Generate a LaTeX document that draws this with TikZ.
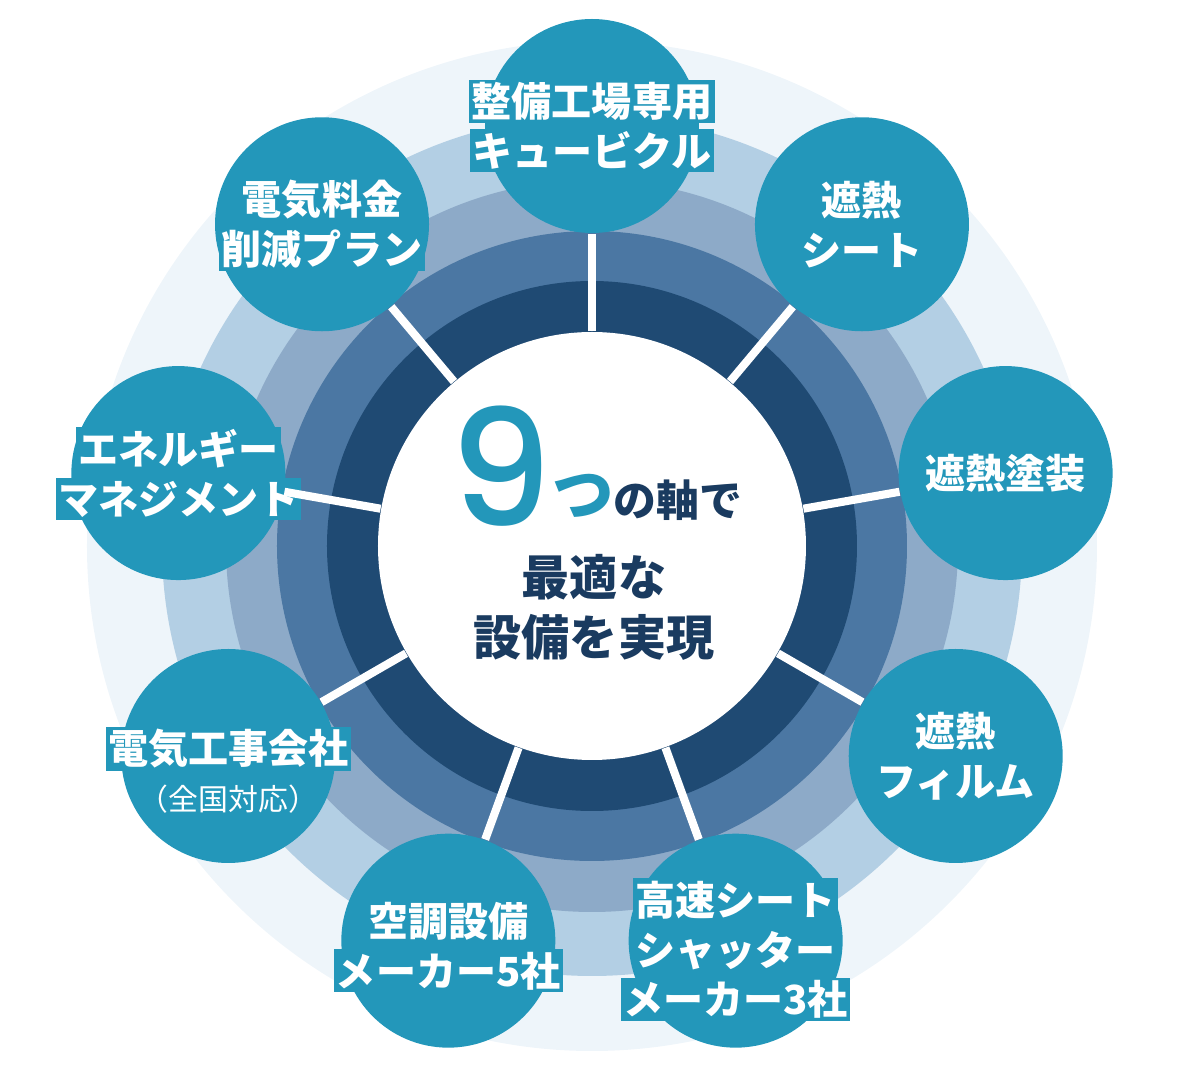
\documentclass[tikz,border=0pt]{standalone}
\usepackage{fontspec}
\setmainfont{Noto Sans CJK JP}
\newfontfamily\ninefont{Poppins}[UprightFont={* Medium}]
\usepackage{tikz}
\usetikzlibrary{positioning}
\definecolor{ringfaint}{HTML}{EEF5FA}
\definecolor{ringlight}{HTML}{B3CFE4}
\definecolor{ringsoft}{HTML}{8DAAC8}
\definecolor{ringmid}{HTML}{4B77A3}
\definecolor{ringdark}{HTML}{1F4A73}
\definecolor{itemteal}{HTML}{2397BA}
\definecolor{hubnavy}{HTML}{1A3B60}
\setlength{\fboxsep}{0.7pt}
\newcommand{\lbl}[1]{\colorbox{itemteal}{#1}}
\newcommand{\lowlbl}[2]{\raisebox{-#1}[\height][\depth]{\lbl{#2}}}
\tikzstyle{item} = [circle, minimum size=2.14cm, inner sep=-0.4cm, fill=itemteal, text=white, align=center, font=\bfseries\fontsize{11.4}{14.2}\selectfont]
\tikzstyle{spoke} = [draw=white, line width=2.3pt]
\tikzstyle{hubtext} = [text=hubnavy, font=\bfseries\fontsize{13.7}{17}\selectfont, align=center]

\begin{document}
\begin{tikzpicture}
\useasboundingbox (-5.92,-5.31) rectangle (6.08,5.46);

% rings
\fill[ringfaint] (0,0) circle (5.05);
\fill[ringlight] (0,0) circle (4.30);
\fill[ringsoft] (0,0) circle (3.66);
\fill[ringmid] (0,0) circle (3.15);
\fill[ringdark] (0,0) circle (2.65);

\node (hub) [circle, fill=white, minimum size=4.28cm, inner sep=0pt] at (0,0) {};

\node (cubicle) [item] at (90:4.2) {\lbl{整備工場専用}\\\lbl{キュービクル}};
\node (sheet) [item] at (50:4.2) {遮熱\\シート};
\node (paint) [item] at (10:4.2) {遮熱塗装};
\node (film) [item] at (-30:4.2) {遮熱\\フィルム};
\node (shutter) [item] at (-70:4.2) {\lowlbl{2.6pt}{高速シート}\\\lowlbl{2.6pt}{シャッター}\\\lowlbl{2.6pt}{メーカー3社}};
\node (aircon) [item] at (-110:4.2) {\lowlbl{1.5pt}{空調設備}\\\lowlbl{1.5pt}{メーカー5社}};
\node (electric) [item] at (-150:4.2) {\lowlbl{4pt}{電気工事会社}\\[-1pt]\raisebox{-4pt}[\height][\depth]{\mdseries\fontsize{8.5}{10}\selectfont（全国対応）}};
\node (energy) [item] at (170:4.2) {\lbl{エネルギー}\\\lbl{マネジメント}};
\node (plan) [item] at (130:4.2) {\lbl{電気料金}\\\lbl{削減プラン}};

\draw[spoke] (hub) -- (cubicle);
\draw[spoke] (hub) -- (sheet);
\draw[spoke] (hub) -- (paint);
\draw[spoke] (hub) -- (film);
\draw[spoke] (hub) -- (shutter);
\draw[spoke] (hub) -- (aircon);
\draw[spoke] (hub) -- (electric);
\draw[spoke] (hub) -- (energy);
\draw[spoke] (hub) -- (plan);

% center text
\node (axes) [text=hubnavy, font=\bfseries\fontsize{12.2}{14}\selectfont, anchor=base] at (0.04,0.29) {\smash{\ninefont\mdseries\fontsize{46}{46}\selectfont\color{itemteal}\raisebox{-2.8pt}{9}}{\fontsize{17.5}{18}\selectfont\color{itemteal}つ}の軸で};
\node (goal) [hubtext] at (0.02,-0.615) {最適な\\設備を実現};

\end{tikzpicture}
\end{document}
